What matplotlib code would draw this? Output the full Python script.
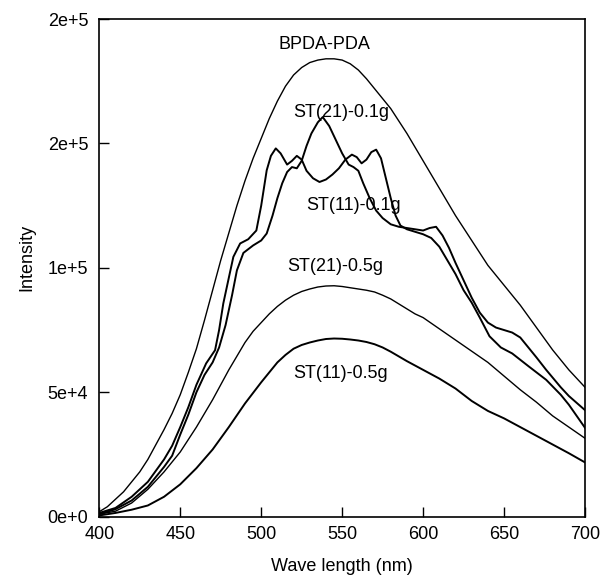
import matplotlib
matplotlib.use("Agg")
import matplotlib.pyplot as plt

plt.rcParams['font.family'] = ['Liberation Sans', 'DejaVu Sans']

# intensities in units of 1e3
wl_bpda = [400, 405, 410, 415, 420, 425, 430, 435, 440, 445, 450, 455, 460, 465, 470, 475, 480,
           485, 490, 495, 500, 505, 510, 515, 520, 525, 530, 535, 540, 545, 550, 555, 560, 565,
           570, 575, 580, 585, 590, 595, 600, 605, 610, 615, 620, 625, 630, 635, 640, 645, 650,
           655, 660, 665, 670, 675, 680, 685, 690, 695, 700]
i_bpda = [2, 4, 7, 10, 14, 18, 23, 29, 35, 41.5, 49, 58, 67.5, 79, 91, 103, 114,
          125, 135, 144, 152, 160, 167, 173, 177.5, 180.5, 182.5, 183.5, 184, 184, 183.5, 182, 179.5, 176,
          172, 168, 164, 159, 154, 148.5, 143, 137.5, 132, 126.5, 121, 116, 111, 106, 101, 97, 93,
          89, 85, 80.5, 76, 71.5, 67, 63, 59, 55.5, 52]

wl_st21_01 = [400, 410, 420, 430, 440, 445, 450, 455, 460, 465, 470, 474, 478, 482, 485, 489, 495,
              500, 503.4, 507, 510, 513, 516, 519, 522, 525, 528, 531, 535, 538, 542, 546, 550,
              554, 557, 560, 563, 567, 571, 575, 580, 585, 590, 595, 600, 604, 608, 612, 616,
              620, 625, 630, 635, 640, 645, 650, 655, 660, 665, 670, 676, 685, 690, 700]
i_st21_01 = [1, 3, 6.5, 12, 20, 24.5, 33, 41, 50, 57, 62, 68, 77, 89, 99, 106, 109,
             111, 113.8, 121, 128, 134, 138.5, 140.5, 140, 143, 149, 154, 158.5, 160.6, 157, 151.5, 146,
             141.5, 140.5, 139, 134, 128, 123, 120, 117.5, 116.5, 116, 115.5, 115, 116, 116.5, 113, 108,
             102, 95, 88, 82, 78, 76, 75, 74, 72, 68, 64, 59, 52, 48.5, 42.8]

wl_st11_01 = [400, 410, 420, 430, 440, 445, 450, 455, 460, 466, 471.5, 474, 476.6, 480, 482.8, 487,
              492, 497, 500, 503.4, 506, 509, 512, 516, 519, 522, 525, 528, 532, 536, 540, 544,
              548, 552, 556, 559, 562, 565, 568, 571, 574, 577, 580, 583, 586, 590, 595, 600, 605,
              610, 615, 620, 625, 630, 635, 641, 648, 655, 665, 676, 685, 690, 700]
i_st11_01 = [1.5, 3.5, 8, 14, 23, 28.5, 36, 44, 53, 61.6, 66.9, 75, 85.7, 96, 104.4, 109.8,
             111.5, 115, 125, 139.2, 145, 148, 146, 141.5, 143, 145, 143.5, 139, 136, 134.5, 135.5, 137.5,
             140, 143.5, 145.5, 144.5, 142, 143.5, 146.5, 147.5, 144, 136, 128, 121, 117, 115.5, 114.5,
             113.5, 112, 108.5, 103, 97.5, 91, 86, 80, 72.5, 68, 65.6, 60.5, 55, 49, 45, 35.7]

wl_st21_05 = [400, 410, 420, 430, 440, 450, 460, 470, 480, 490, 495, 500, 505, 510, 515, 520, 525,
              530, 535, 540, 545, 550, 555, 560, 565, 570, 575, 580, 585, 590, 595, 600, 610, 620,
              630, 640, 650, 660, 670, 680, 690, 700]
i_st21_05 = [1, 2.2, 5.5, 11, 18, 26, 36, 47, 59, 70, 74.5, 78, 81.5, 84.5, 87, 89, 90.5,
             91.5, 92.3, 92.7, 92.8, 92.5, 92, 91.5, 91, 90.3, 89, 87.5, 85.5, 83.5, 81.5, 80, 75.5, 71,
             66.5, 62, 56.5, 51, 46, 40.5, 36, 31.5]

wl_st11_05 = [400, 410, 420, 430, 440, 450, 460, 470, 480, 490, 500, 505, 510, 515, 520, 525, 530,
              535, 540, 545, 550, 555, 560, 565, 570, 575, 580, 590, 600, 610, 620, 630, 640, 650,
              660, 670, 680, 690, 700]
i_st11_05 = [0.5, 1.5, 2.8, 4.5, 8, 13, 19.5, 27, 36, 45.5, 54, 58, 62, 65, 67.5, 69, 70,
             70.8, 71.4, 71.6, 71.5, 71.2, 70.8, 70.2, 69.3, 68, 66.3, 62.5, 59, 55.5, 51.5, 46.5, 42.5, 39.5,
             36, 32.5, 29, 25.5, 21.8]

labels = ['BPDA-PDA', 'ST(21)-0.1g', 'ST(11)-0.1g', 'ST(21)-0.5g', 'ST(11)-0.5g']
label_x = [539, 549.5, 557, 545.6, 549]
label_y = [189.8, 162.5, 124.9, 100.4, 57.6]

ytick_vals = [0, 5e4, 1e5, 1.5e5, 2e5]
ytick_text = ['0e+0', '5e+4', '1e+5', '2e+5', '2e+5']
xtick_vals = [400, 450, 500, 550, 600, 650, 700]

fig = plt.figure(figsize=(6.05, 5.76), dpi=100)
ax = fig.add_axes([0.1641, 0.103, 0.8029, 0.864])

series = [(wl_bpda, i_bpda, 1.0), (wl_st21_01, i_st21_01, 1.4), (wl_st11_01, i_st11_01, 1.4),
          (wl_st21_05, i_st21_05, 1.0), (wl_st11_05, i_st11_05, 1.4)]
for wl, inten, lw in series:
    ax.plot(wl, [v * 1e3 for v in inten], color='black', lw=lw)

for txt, lx, ly in zip(labels, label_x, label_y):
    ax.text(lx, ly * 1e3, txt, ha='center', va='center', fontsize=13)

ax.set_xlim(400, 700)
ax.set_ylim(0, 2e5)
ax.set_xticks(xtick_vals)
ax.set_yticks(ytick_vals)
ax.set_yticklabels(ytick_text)
ax.tick_params(direction='in', length=7, width=1, labelsize=13)
ax.tick_params(axis='x', pad=7)
ax.tick_params(axis='y', pad=8)
for s in ax.spines.values():
    s.set_linewidth(1.2)

ax.set_xlabel('Wave length (nm)', fontsize=13, va='center')
ax.set_ylabel('Intensity', fontsize=13, va='center')
ax.xaxis.set_label_coords(0.5, -0.10)
ax.yaxis.set_label_coords(-0.149, 0.52)

fig.savefig('out.png', dpi=100)
